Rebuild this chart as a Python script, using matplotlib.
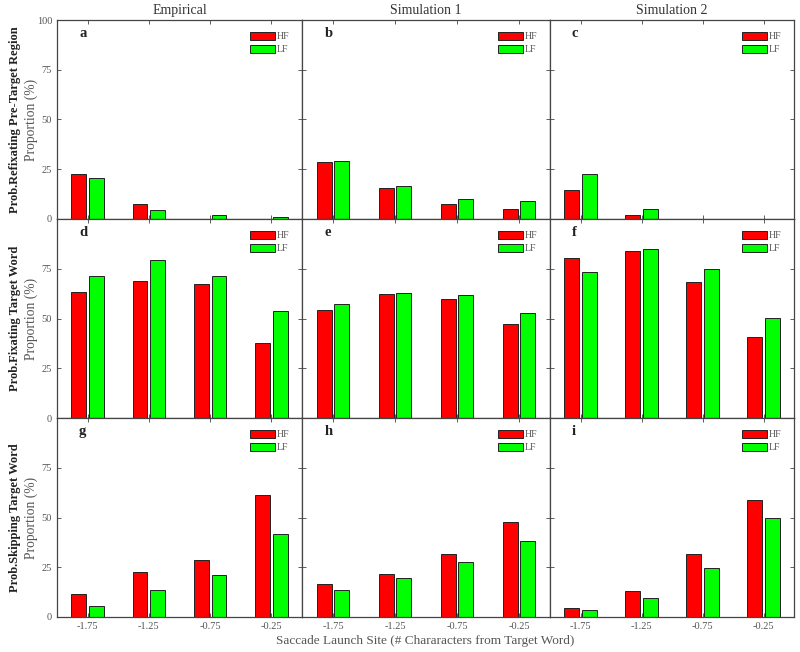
import numpy as np
import matplotlib
matplotlib.use("Agg")
import matplotlib.pyplot as plt
from matplotlib.patches import Patch

plt.rcParams['font.family'] = ['Liberation Serif', 'DejaVu Serif']

sites = [-1.75, -1.25, -0.75, -0.25]
site_labels = ['-1.75', '-1.25', '-0.75', '-0.25']
col_titles = ['Empirical', 'Simulation 1', 'Simulation 2']
row_titles = ['Prob.Refixating Pre-Target Region', 'Prob.Fixating Target Word',
              'Prob.Skipping Target Word']
letters = ['a', 'b', 'c', 'd', 'e', 'f', 'g', 'h', 'i']

# HF / LF proportions (%) per panel, row by row
hf_a = [22.7, 7.3, 0, 0]
lf_a = [20.6, 4.3, 2.1, 1.2]
hf_b = [28.6, 15.4, 7.5, 4.8]
lf_b = [28.9, 16.8, 10.2, 8.9]
hf_c = [14.6, 2.0, 0, 0]
lf_c = [22.7, 4.9, 0, 0]

hf_d = [63.5, 68.9, 67.3, 37.7]
lf_d = [71.3, 79.3, 71.4, 53.7]
hf_e = [54.3, 62.4, 59.9, 47.1]
lf_e = [57.2, 62.9, 61.7, 53.0]
hf_f = [80.3, 84.0, 68.1, 40.9]
lf_f = [73.4, 84.9, 75.1, 50.3]

hf_g = [11.7, 22.5, 28.4, 61.5]
lf_g = [5.5, 13.8, 21.2, 41.5]
hf_h = [16.8, 21.7, 31.9, 47.9]
lf_h = [13.6, 19.7, 27.7, 38.0]
hf_i = [4.5, 13.3, 31.8, 59.0]
lf_i = [3.4, 9.7, 24.5, 49.5]

hf_all = [hf_a, hf_b, hf_c, hf_d, hf_e, hf_f, hf_g, hf_h, hf_i]
lf_all = [lf_a, lf_b, lf_c, lf_d, lf_e, lf_f, lf_g, lf_h, lf_i]

W, H = 800, 652
fig = plt.figure(figsize=(W / 100, H / 100), dpi=100)

col_x = [57, 302, 550, 794]
top, bottom = 20, 617
row_h = (bottom - top) / 3
gray = '#555555'
spine = '#444444'
x = np.array(sites)
w = 0.12

for r in range(3):
    for c in range(3):
        k = r * 3 + c
        x0 = col_x[c] / W
        wd = (col_x[c + 1] - col_x[c]) / W
        y0 = 1 - (top + (r + 1) * row_h) / H
        ax = fig.add_axes([x0, y0, wd, row_h / H])
        vals_hf = [v if v > 0 else np.nan for v in hf_all[k]]
        vals_lf = [v if v > 0 else np.nan for v in lf_all[k]]
        ax.bar(x - 0.072, vals_hf, w, color='#ff0000', edgecolor='#222222', linewidth=0.7, label='HF')
        ax.bar(x + 0.072, vals_lf, w, color='#00ff00', edgecolor='#222222', linewidth=0.7, label='LF')
        ax.set_xlim(-2, 0)
        ax.set_ylim(0, 100)
        ax.set_xticks(sites)
        if r == 0:
            ax.set_yticks([0, 25, 50, 75, 100])
        else:
            ax.set_yticks([0, 25, 50, 75])
        ax.tick_params(direction='in', top=True, right=True, length=3, width=0.6,
                       colors=spine, labelsize=7.5, labelcolor=gray)
        if r == 2:
            ax.set_xticklabels(site_labels)
        else:
            ax.set_xticklabels([])
        if c != 0:
            ax.set_yticklabels([])
        for s in ax.spines.values():
            s.set_color(spine)
            s.set_linewidth(0.9)
        ax.text(0.09, 0.93, letters[k], transform=ax.transAxes, fontsize=10.5,
                fontweight='bold', color='#222222', va='center')
        handles = [Patch(facecolor='#ff0000', edgecolor='#222222', linewidth=0.7),
                   Patch(facecolor='#00ff00', edgecolor='#222222', linewidth=0.7)]
        ax.legend(handles, ['HF', 'LF'], loc='upper right', frameon=False,
                  fontsize=7, labelcolor=gray, handlelength=2.6, handleheight=0.9,
                  handletextpad=0.2, labelspacing=0.35, borderaxespad=0.5,
                  bbox_to_anchor=(0.985, 0.985))
        if r == 0:
            ax.set_title(col_titles[c], fontsize=10, color='#333333', pad=4)
        if c == 0:
            yc = 1 - (top + (r + 0.5) * row_h) / H
            fig.text(15 / W, yc, row_titles[r], rotation=90, ha='center', va='center',
                     fontsize=9, fontweight='bold', color='#222222')
            fig.text(31 / W, yc, 'Proportion (%)', rotation=90, ha='center', va='center',
                     fontsize=9.8, color=gray)

fig.text((col_x[0] + col_x[3]) / 2 / W, 1 - 641 / H,
         'Saccade Launch Site (# Chararacters from Target Word)',
         ha='center', va='center', fontsize=9.5, color=gray)

fig.savefig('out.png', dpi=100)
